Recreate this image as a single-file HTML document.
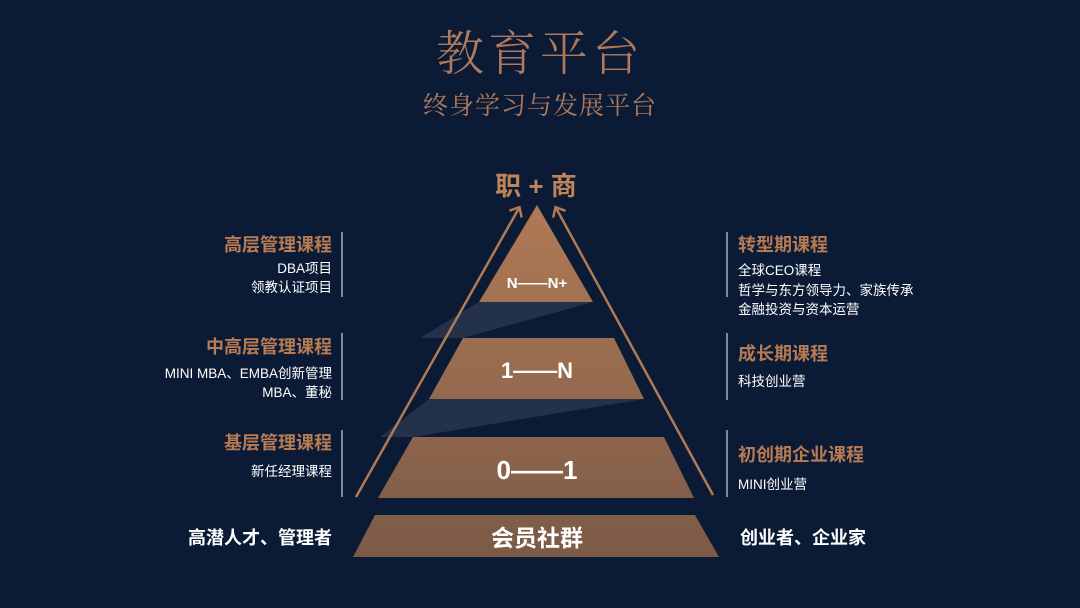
<!DOCTYPE html>
<html><head><meta charset="utf-8"><style>
html,body{margin:0;padding:0;background:#0b1b36;}
svg{display:block}
text{font-family:"Liberation Sans","Noto Sans CJK SC",sans-serif;}
</style></head><body>
<svg width="1080" height="608" viewBox="0 0 1080 608" xmlns="http://www.w3.org/2000/svg">
<defs>
<linearGradient id="pg" gradientUnits="userSpaceOnUse" x1="0" y1="205" x2="0" y2="557">
<stop offset="0" stop-color="#b07a55"/><stop offset="1" stop-color="#7b5a47"/>
</linearGradient>
<marker id="ah" markerWidth="16" markerHeight="16" refX="8" refY="8" orient="auto" markerUnits="userSpaceOnUse">
<path d="M1,1 L9,8 L1,15" fill="none" stroke="#b07a55" stroke-width="2.5"/>
</marker>
</defs>
<rect width="1080" height="608" fill="#0b1b36"/>
<text x="540" y="70" text-anchor="middle" font-size="48" fill="#b07a5a" letter-spacing="4" style="font-family:'Noto Serif CJK SC',serif;font-weight:300">教育平台</text>
<text x="540" y="114" text-anchor="middle" font-size="25" fill="#b07a5a" letter-spacing="1" style="font-family:'Noto Serif CJK SC',serif">终身学习与发展平台</text>
<text x="536" y="195" text-anchor="middle" font-size="26" font-weight="bold" fill="#c0845a">职 + 商</text>
<!-- beams -->
<polygon points="479,302 593,302 463,338 420,338" fill="#ffffff" opacity="0.1"/>
<polygon points="429,399 644,399 413,437 380,437" fill="#ffffff" opacity="0.1"/>
<!-- pyramid -->
<polygon points="537,205 593,302 479,302" fill="url(#pg)"/>
<polygon points="463,338 614,338 644,399 429,399" fill="url(#pg)"/>
<polygon points="413,437 664,437 694,498 378,498" fill="url(#pg)"/>
<polygon points="375,515 695,515 719,557 353,557" fill="url(#pg)"/>
<!-- arrows -->
<line x1="356" y1="497" x2="519" y2="208" stroke="#b07a55" stroke-width="2.5" marker-end="url(#ah)"/>
<line x1="713" y1="495" x2="556" y2="208" stroke="#b07a55" stroke-width="2.5" marker-end="url(#ah)"/>
<g fill="#fff" font-weight="bold" text-anchor="middle">
<text x="537" y="288" font-size="15">N——N+</text>
<text x="537" y="378" font-size="22">1——N</text>
<text x="537" y="479" font-size="26">0——1</text>
<text x="537" y="546" font-size="23">会员社群</text>
</g>
<!-- side lines -->
<g stroke="#9fb0c8" stroke-width="1.5">
<line x1="342" y1="232" x2="342" y2="297"/><line x1="342" y1="333" x2="342" y2="400"/><line x1="342" y1="430" x2="342" y2="497"/>
<line x1="727" y1="232" x2="727" y2="297"/><line x1="727" y1="333" x2="727" y2="400"/><line x1="727" y1="430" x2="727" y2="497"/>
</g>
<g text-anchor="end">
<text x="332" y="251" font-size="18" font-weight="bold" fill="#b87b52">高层管理课程</text>
<text x="332" y="273" font-size="13.5" fill="#fff">DBA项目</text>
<text x="332" y="292" font-size="13.5" fill="#fff">领教认证项目</text>
<text x="332" y="353" font-size="18" font-weight="bold" fill="#b87b52">中高层管理课程</text>
<text x="332" y="378" font-size="13.5" fill="#fff">MINI MBA、EMBA创新管理</text>
<text x="332" y="397" font-size="13.5" fill="#fff">MBA、董秘</text>
<text x="332" y="449" font-size="18" font-weight="bold" fill="#b87b52">基层管理课程</text>
<text x="332" y="476" font-size="13.5" fill="#fff">新任经理课程</text>
<text x="332" y="544" font-size="18" font-weight="bold" fill="#fff">高潜人才、管理者</text>
</g>
<g>
<text x="738" y="251" font-size="18" font-weight="bold" fill="#b87b52">转型期课程</text>
<text x="738" y="275" font-size="13.5" fill="#fff">全球CEO课程</text>
<text x="738" y="295" font-size="13.5" fill="#fff">哲学与东方领导力、家族传承</text>
<text x="738" y="314" font-size="13.5" fill="#fff">金融投资与资本运营</text>
<text x="738" y="360" font-size="18" font-weight="bold" fill="#b87b52">成长期课程</text>
<text x="738" y="386" font-size="13.5" fill="#fff">科技创业营</text>
<text x="738" y="461" font-size="18" font-weight="bold" fill="#b87b52">初创期企业课程</text>
<text x="738" y="489" font-size="13.5" fill="#fff">MINI创业营</text>
<text x="740" y="544" font-size="18" font-weight="bold" fill="#fff">创业者、企业家</text>
</g>
</svg>
</body></html>
